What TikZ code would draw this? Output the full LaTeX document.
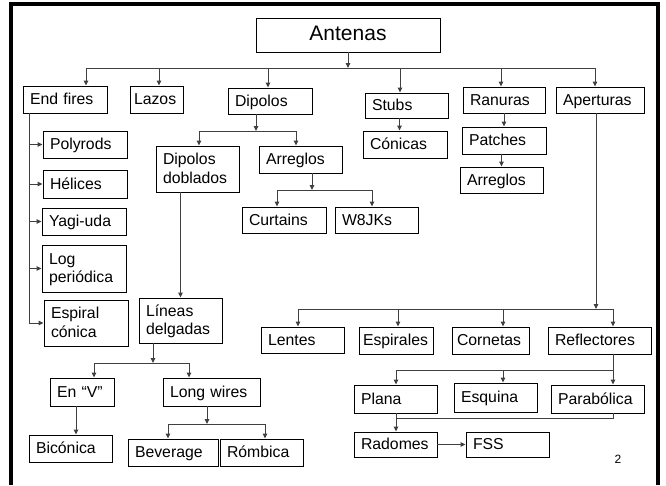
\documentclass[tikz,border=0pt]{standalone}
\usepackage{fontspec}
\setmainfont{Liberation Sans}
\usepackage{tikz}
\usetikzlibrary{positioning, arrows.meta}

\newcommand{\puntal}{\rule[-4pt]{0pt}{18pt}}

\begin{document}
\begin{tikzpicture}[x=1pt, y=-1pt,
    caja/.style={draw, line width=0.9pt, inner xsep=7pt, inner ysep=0pt, align=left,
      font=\fontsize{15.8}{18.5}\selectfont,
      execute at begin node=\puntal, execute at end node=\puntal},
    linea/.style={draw=black!75, line width=1pt},
    flecha/.style={linea, -{Triangle[length=5pt, width=4.5pt]}}]
      \useasboundingbox (0,0) rectangle (666,485);
      \draw[line width=3.2pt] (11,485) -- (11,4) -- (658,4) -- (658,485);

      % raiz y primer nivel
      \node[caja, align=center, text width=170pt, minimum height=34pt, font=\fontsize{21}{24}\selectfont] (ant) at (348,35) {Antenas};
      \node[caja, text width=70pt, minimum height=27pt] (endf) at (65,99.5) {End fires};
      \node[caja, inner xsep=4pt, text width=45pt, minimum height=27pt] (lazos) at (156.5,99.5) {Lazos};
      \node[caja, text width=70pt, minimum height=26pt] (dip) at (270,101) {Dipolos};
      \node[caja, text width=69pt, minimum height=25pt] (stubs) at (406.5,105.5) {Stubs};
      \node[caja, text width=68pt, minimum height=26pt] (ran) at (504,100) {Ranuras};
      \node[caja, text width=74pt, minimum height=26pt] (ape) at (600,100) {Aperturas};

      % end fires
      \node[caja, text width=70pt, minimum height=27pt] (poly) at (85,144.5) {Polyrods};
      \node[caja, text width=70pt, minimum height=28pt] (hel) at (85,184) {Hélices};
      \node[caja, text width=70pt, minimum height=27pt] (yagi) at (84,221.5) {Yagi-uda};
      \node[caja, text width=70pt, minimum height=47pt] (logp) at (84,268.5) {Log\\periódica};
      \node[caja, text width=70pt, minimum height=46pt] (espc) at (86,323) {Espiral\\cónica};

      % dipolos
      \node[caja, text width=69pt, minimum height=46pt] (dipd) at (197.5,169) {Dipolos\\doblados};
      \node[caja, text width=69pt, minimum height=27pt] (arrd) at (300.5,159.5) {Arreglos};
      \node[caja, text width=70pt, minimum height=26pt] (curt) at (284,220) {Curtains};
      \node[caja, text width=69pt, minimum height=26pt] (w8) at (376.5,220) {W8JKs};
      \node[caja, text width=69pt, minimum height=45pt] (lin) at (180.5,320.5) {Líneas\\delgadas};
      \node[caja, text width=50pt, minimum height=28pt] (env) at (82,392) {En “V”};
      \node[caja, text width=83pt, minimum height=28pt] (longw) at (211.5,392) {Long wires};
      \node[caja, text width=69pt, minimum height=27pt] (bic) at (70.5,448.5) {Bicónica};
      \node[caja, text width=76pt, minimum height=27pt] (bev) at (173,452.5) {Beverage};
      \node[caja, text width=69pt, minimum height=27pt] (rom) at (261.5,452.5) {Rómbica};

      % stubs y ranuras
      \node[caja, text width=70pt, minimum height=27pt] (con) at (405,144.5) {Cónicas};
      \node[caja, text width=70pt, minimum height=27pt] (pat) at (504,140.5) {Patches};
      \node[caja, text width=69pt, minimum height=26pt] (arrr) at (501.5,180) {Arreglos};

      % aperturas
      \node[caja, text width=69pt, minimum height=26pt] (len) at (302.5,340) {Lentes};
      \node[caja, inner xsep=4pt, text width=66pt, minimum height=27pt] (espi) at (396,340.5) {Espirales};
      \node[caja, inner xsep=5pt, text width=67pt, minimum height=27pt] (corn) at (490.5,340.5) {Cornetas};
      \node[caja, text width=89pt, minimum height=27pt] (refl) at (599.5,340.5) {Reflectores};
      \node[caja, text width=69pt, minimum height=28pt] (plana) at (395.5,399) {Plana};
      \node[caja, text width=69pt, minimum height=29pt] (esq) at (495.5,397.5) {Esquina};
      \node[caja, text width=79pt, minimum height=28pt] (parab) at (597.5,399) {Parabólica};
      \node[caja, text width=69pt, minimum height=25pt] (rad) at (395.5,444.5) {Radomes};
      \node[caja, text width=69pt, minimum height=25pt] (fss) at (507.5,444.5) {FSS};

      \node[font=\fontsize{12}{14}\selectfont] (num) at (618,459.5) {2};

      % conectores del primer nivel
      \coordinate (t1) at (86,68);
      \coordinate (t2) at (159,68);
      \coordinate (t3) at (268,68);
      \coordinate (t4) at (400,68);
      \coordinate (t5) at (501,68);
      \coordinate (t6) at (595,68);
      \draw[flecha] (ant.south) -- (ant.south |- t1);
      \draw[linea] (t1) -- (t6);
      \draw[flecha] (t1) -- (t1 |- endf.north);
      \draw[flecha] (t2) -- (t2 |- lazos.north);
      \draw[flecha] (t3) -- (t3 |- dip.north);
      \draw[flecha] (t4) -- (t4 |- stubs.north);
      \draw[flecha] (t5) -- (t5 |- ran.north);
      \draw[flecha] (t6) -- (t6 |- ape.north);

      % end fires
      \coordinate (e0) at (29,113);
      \draw[flecha] (e0) -- (e0 |- espc.west) -- (espc.west);
      \foreach \n in {poly, hel, yagi, logp}
        \draw[flecha] (e0 |- \n.west) -- (\n.west);

      % dipolos
      \coordinate (d1) at (256,131);
      \coordinate (d2) at (199,131);
      \coordinate (d3) at (296,131);
      \draw[flecha] (d1 |- dip.south) -- (d1);
      \draw[linea] (d2) -- (d3);
      \draw[flecha] (d2) -- (d2 |- dipd.north);
      \draw[flecha] (d3) -- (d3 |- arrd.north);

      \coordinate (a1) at (312,190);
      \coordinate (a2) at (277,190);
      \coordinate (a3) at (372,190);
      \draw[flecha] (a1 |- arrd.south) -- (a1);
      \draw[linea] (a2) -- (a3);
      \draw[flecha] (a2) -- (a2 |- curt.north);
      \draw[flecha] (a3) -- (a3 |- w8.north);

      \draw[flecha] (dipd.south -| lin.north) -- (lin.north);

      \coordinate (l1) at (153,363);
      \coordinate (l2) at (94,363);
      \coordinate (l3) at (189,363);
      \draw[flecha] (l1 |- lin.south) -- (l1);
      \draw[linea] (l2) -- (l3);
      \draw[flecha] (l2) -- (l2 |- env.north);
      \draw[flecha] (l3) -- (l3 |- longw.north);

      \draw[flecha] ([xshift=-6pt]env.south) -- ([xshift=-6pt]env.south |- bic.north);

      \coordinate (w1) at (207,424);
      \coordinate (w2) at (168,424);
      \coordinate (w3) at (265,424);
      \draw[flecha] (w1 |- longw.south) -- (w1);
      \draw[linea] (w2) -- (w3);
      \draw[flecha] (w2) -- (w2 |- bev.north);
      \draw[flecha] (w3) -- (w3 |- rom.north);

      % stubs y ranuras
      \draw[flecha] ([xshift=-7pt]stubs.south) -- ([xshift=-7pt]stubs.south |- con.north);
      \draw[flecha] (ran) -- (pat);
      \draw[flecha] (pat.south -| arrr.north) -- (arrr.north);

      % aperturas
      \coordinate (p0) at (596,309);
      \coordinate (p1) at (298,309);
      \coordinate (p2) at (398,309);
      \coordinate (p3) at (503,309);
      \coordinate (p4) at (613,309);
      \draw[flecha] (ape.south -| p0) -- (p0);
      \draw[linea] (p1) -- (p4);
      \draw[flecha] (p1) -- (p1 |- len.north);
      \draw[flecha] (p2) -- (p2 |- espi.north);
      \draw[flecha] (p3) -- (p3 |- corn.north);
      \draw[flecha] (p4) -- (p4 |- refl.north);

      \coordinate (r0) at (613,370);
      \coordinate (r1) at (396,370);
      \coordinate (r2) at (503,370);
      \draw[linea] (refl.south -| r0) -- (r0) -- (r1);
      \draw[flecha] (r1) -- (r1 |- plana.north);
      \draw[flecha] (r2) -- (r2 |- esq.north);
      \draw[flecha] (r0) -- (r0 |- parab.north);

      \coordinate (q0) at (613,418);
      \coordinate (q1) at (396,418);
      \draw[linea] (parab.south -| q0) -- (q0) -- (q1);
      \draw[flecha] (plana.south -| q1) -- (q1 |- rad.north);
      \draw[flecha] (rad) -- (fss);
    \end{tikzpicture}
\end{document}
